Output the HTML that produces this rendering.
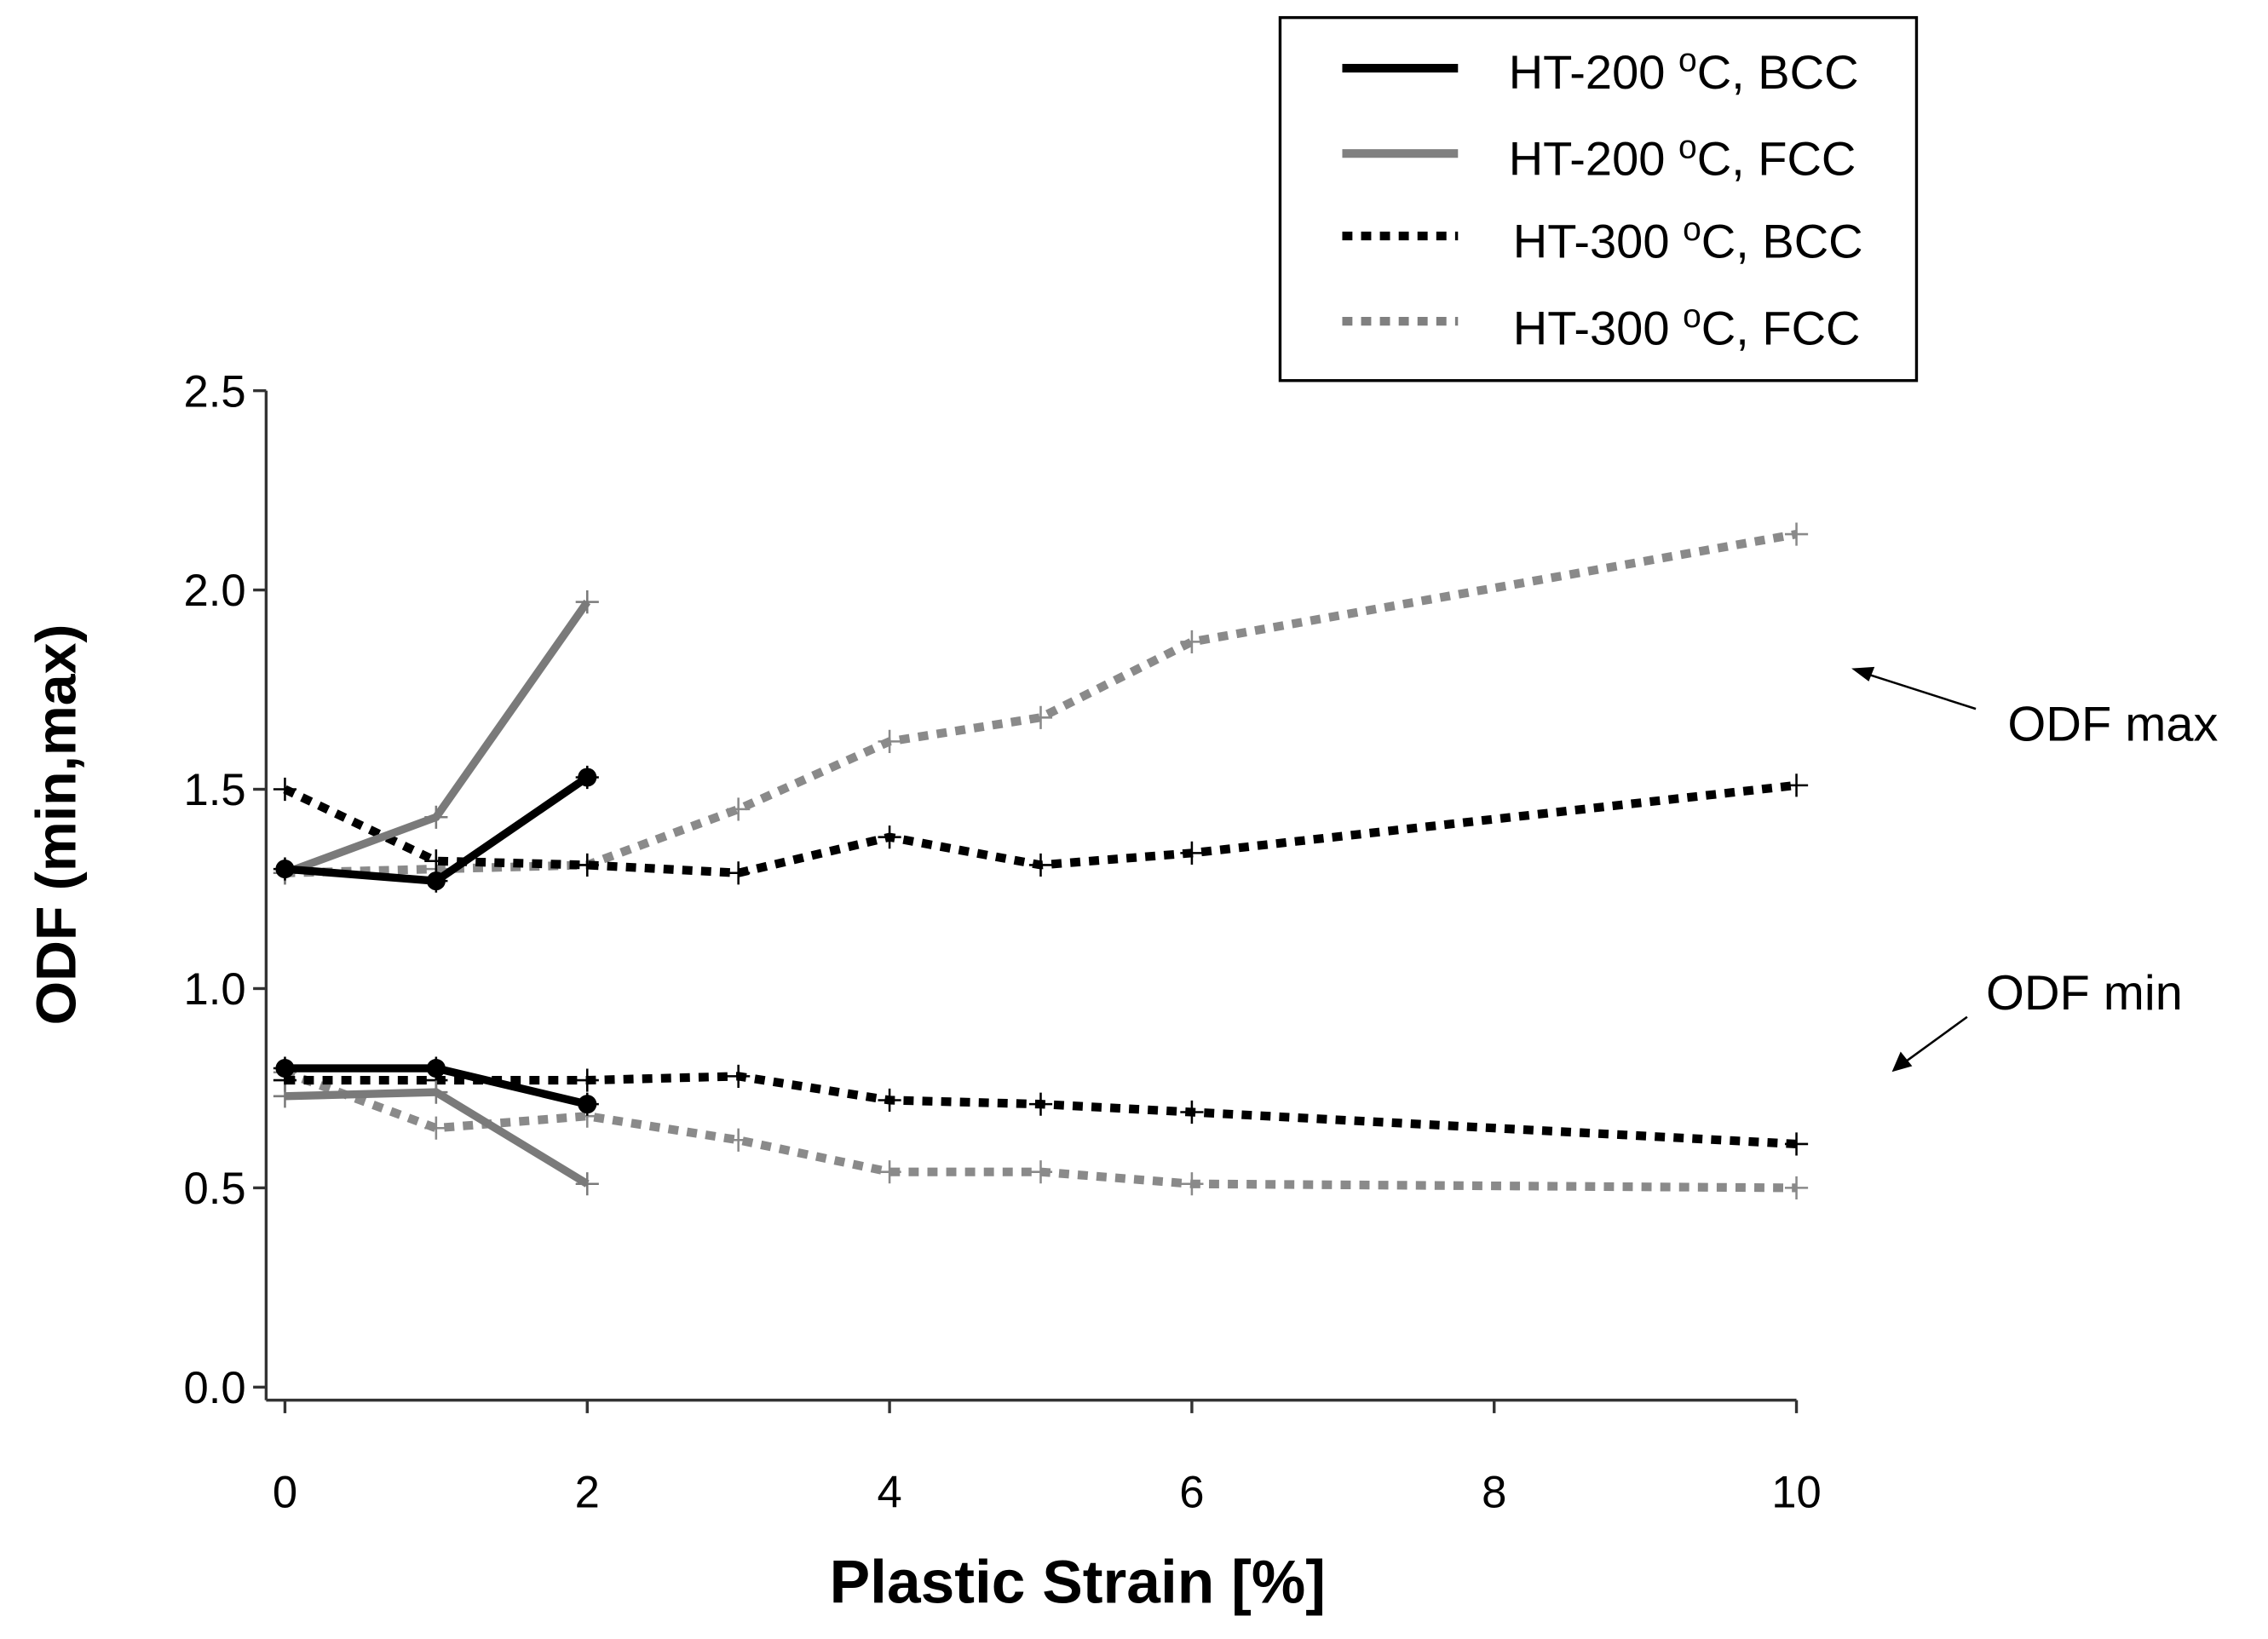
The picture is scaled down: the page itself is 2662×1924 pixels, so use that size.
<!DOCTYPE html>
<html><head><meta charset="utf-8"><style>
html,body{margin:0;padding:0;background:#fff;}
svg{display:block;}
text{font-family:"Liberation Sans",sans-serif;}
</style></head><body>
<svg id="chart" width="2662" height="1924" viewBox="0 0 1568 1133" xmlns="http://www.w3.org/2000/svg">
<g id="axes"></g>
<g id="series"></g>
<g>
<rect x="885" y="12" width="440" height="251" fill="#fff" stroke="#000" stroke-width="2"/>
<line x1="928" y1="47" x2="1008" y2="47" stroke="#000" stroke-width="6"/>
<text x="1043" y="61" font-size="33">HT-200 <tspan dy="-12" font-size="23">o</tspan><tspan dy="12">C, BCC</tspan></text>
<line x1="928" y1="106" x2="1008" y2="106" stroke="#808080" stroke-width="6"/>
<text x="1043" y="121" font-size="33">HT-200 <tspan dy="-12" font-size="23">o</tspan><tspan dy="12">C, FCC</tspan></text>
<line x1="928" y1="163" x2="1008" y2="163" stroke="#000" stroke-width="6" stroke-dasharray="7,6"/>
<text x="1046" y="178" font-size="33">HT-300 <tspan dy="-12" font-size="23">o</tspan><tspan dy="12">C, BCC</tspan></text>
<line x1="928" y1="222" x2="1008" y2="222" stroke="#808080" stroke-width="6" stroke-dasharray="7,6"/>
<text x="1046" y="238" font-size="33">HT-300 <tspan dy="-12" font-size="23">o</tspan><tspan dy="12">C, FCC</tspan></text>
</g>
<text transform="translate(52,570) rotate(-90)" text-anchor="middle" font-size="39" font-weight="bold">ODF (min,max)</text>
<text x="745" y="1108" text-anchor="middle" font-size="42" font-weight="bold">Plastic Strain [%]</text>
<text x="1388" y="512" font-size="34">ODF max</text>
<line x1="1366" y1="490" x2="1288" y2="465" stroke="#000" stroke-width="1.5"/>
<polygon points="1280,462 1296,461 1292,471" fill="#000"/>
<text x="1373" y="698" font-size="34">ODF min</text>
<line x1="1360" y1="703" x2="1316" y2="735" stroke="#000" stroke-width="1.5"/>
<polygon points="1308,741 1314,727 1322,737" fill="#000"/>
</svg>
<script>
const xTicks=[0,2,4,6,8,10];
const yTicks=[0.0,0.5,1.0,1.5,2.0,2.5];
const yTickLabels=["0.0","0.5","1.0","1.5","2.0","2.5"];
const x200=[0,1,2];
const x300=[0,1,2,3,4,5,6,10];
const bcc200Max=[1.30,1.27,1.53];
const bcc200Min=[0.80,0.80,0.71];
const fcc200Max=[1.29,1.43,1.97];
const fcc200Min=[0.73,0.74,0.51];
const bcc300Max=[1.50,1.32,1.31,1.29,1.38,1.31,1.34,1.51];
const bcc300Min=[0.77,0.77,0.77,0.78,0.72,0.71,0.69,0.61];
const fcc300Max=[1.29,1.30,1.31,1.45,1.62,1.68,1.87,2.14];
const fcc300Min=[0.79,0.65,0.68,0.62,0.54,0.54,0.51,0.50];

const NS="http://www.w3.org/2000/svg";
const X=v=>197+v*104.5;
const Y=v=>959-v*275.6;
function mk(tag,attrs,parent){const e=document.createElementNS(NS,tag);for(const k in attrs)e.setAttribute(k,attrs[k]);parent.appendChild(e);return e;}
const axes=document.getElementById('axes');
let e=mk('line',{x1:184,y1:Y(2.5),x2:184,y2:968,stroke:'#333','stroke-width':2},axes);


e=mk('line',{x1:184,y1:968,x2:X(10),y2:968,stroke:'#333','stroke-width':2},axes);


yTicks.forEach((t,i)=>{
 const l=mk('line',{x1:175,y1:Y(t),x2:184,y2:Y(t),stroke:'#333','stroke-width':2},axes);
 
 
 const tx=mk('text',{x:170,y:Y(t)+11,'text-anchor':'end','font-size':31},axes);
 tx.textContent=yTickLabels[i];
 
 
});
xTicks.forEach(t=>{
 const l=mk('line',{x1:X(t),y1:968,x2:X(t),y2:977,stroke:'#333','stroke-width':2},axes);
 
 
 const tx=mk('text',{x:X(t),y:1042,'text-anchor':'middle','font-size':31},axes);
 tx.textContent=String(t);
 
 
});
const sg=document.getElementById('series');
function series(name,xs,ys,color,dashed,circles){
 const pts=xs.map((x,i)=>X(x)+','+Y(ys[i])).join(' ');
 const p=mk('polyline',{points:pts,fill:'none',stroke:color,'stroke-width':dashed?6:5.5,'stroke-dasharray':dashed?'7,6':'none'},sg);
 
 
 xs.forEach((x,i)=>{
  const cx=X(x),cy=Y(ys[i]);
  if(circles){
   const c=mk('circle',{cx:cx,cy:cy,r:6.5,fill:color},sg);
   
   
  }
  const m=mk('path',{d:`M${cx-8},${cy}H${cx+8}M${cx},${cy-8}V${cy+8}`,stroke:color,'stroke-width':1.5},sg);
  
  
 });
}
series('ht300-fcc-max',x300,fcc300Max,'#8a8a8a',true,false);
series('ht300-fcc-min',x300,fcc300Min,'#8a8a8a',true,false);
series('ht300-bcc-max',x300,bcc300Max,'#000',true,false);
series('ht300-bcc-min',x300,bcc300Min,'#000',true,false);
series('ht200-fcc-max',x200,fcc200Max,'#7a7a7a',false,false);
series('ht200-fcc-min',x200,fcc200Min,'#7a7a7a',false,false);
series('ht200-bcc-max',x200,bcc200Max,'#000',false,true);
series('ht200-bcc-min',x200,bcc200Min,'#000',false,true);
</script>
</body></html>
